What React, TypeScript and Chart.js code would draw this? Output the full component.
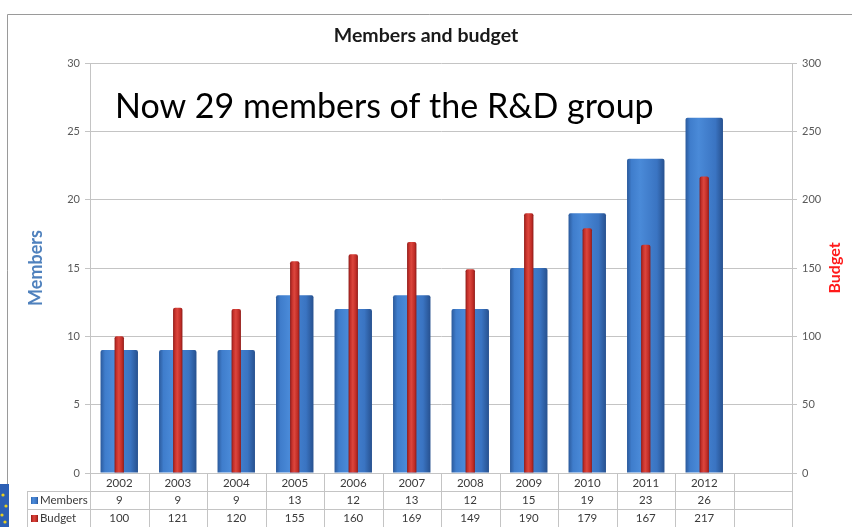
import React, { useEffect, useRef } from "react";
import { Chart, registerables } from "chart.js";

Chart.register(...registerables);

const years = ["2002", "2003", "2004", "2005", "2006", "2007", "2008", "2009", "2010", "2011", "2012", ""];
const members = [9, 9, 9, 13, 12, 13, 12, 15, 19, 23, 26];
const budget = [100, 121, 120, 155, 160, 169, 149, 190, 179, 167, 217];
const chartTitle = "Members and budget";
const note = "Now 29 members of the R&D group";
const membersLabel = "Members";
const budgetLabel = "Budget";

const BLUE_PCT = 0.64;
const RED_PCT = 0.16;

const blueStops: [number, string][] = [
  [0, "#2b5a9c"],
  [0.12, "#3f7dcc"],
  [0.35, "#4a8ad8"],
  [0.8, "#3a74c2"],
  [1, "#27518f"],
];
const redStops: [number, string][] = [
  [0, "#8c1b18"],
  [0.2, "#c4302a"],
  [0.45, "#dc463d"],
  [0.8, "#bf2c26"],
  [1, "#8c1b18"],
];

function barGradient(c: any, pct: number, stops: [number, string][]) {
  const chart = c.chart;
  const xs = chart.scales && chart.scales.x;
  if (!xs || c.type !== "data" || !xs.width) return stops[2][1];
  const n = chart.data.labels.length;
  const cx = xs.getPixelForValue(c.dataIndex);
  const half = ((xs.width / n) * pct) / 2;
  const g = chart.ctx.createLinearGradient(cx - half, 0, cx + half, 0);
  stops.forEach(([o, col]) => g.addColorStop(o, col));
  return g;
}

function keyGradient(ctx: CanvasRenderingContext2D, x: number, w: number, stops: [number, string][]) {
  const g = ctx.createLinearGradient(x, 0, x + w, 0);
  stops.forEach(([o, col]) => g.addColorStop(o, col));
  return g;
}

const decorPlugin = {
  id: "decor",
  beforeDraw(chart: any) {
    const ctx = chart.ctx as CanvasRenderingContext2D;
    ctx.save();
    ctx.fillStyle = "#ffffff";
    ctx.fillRect(0, 0, chart.width, chart.height);
    ctx.strokeStyle = "#9a9a9a";
    ctx.lineWidth = 1;
    ctx.beginPath();
    ctx.moveTo(7.5, chart.height);
    ctx.lineTo(7.5, 14.5);
    ctx.lineTo(chart.width, 14.5);
    ctx.stroke();
    // corner fragment of a flag image
    ctx.fillStyle = "#2c5fb4";
    ctx.fillRect(0, 484, 9, chart.height - 484);
    ctx.fillStyle = "#e8d020";
    [[3, 495], [6, 506], [2, 515], [5, 522]].forEach(([sx, sy]) => {
      ctx.beginPath();
      ctx.arc(sx, sy, 1.6, 0, Math.PI * 2);
      ctx.fill();
    });
    ctx.restore();
  },
  afterDraw(chart: any) {
    const ctx = chart.ctx as CanvasRenderingContext2D;
    const xs = chart.scales.x;
    const n = chart.data.labels.length;
    const cw = xs.width / n;
    const top = chart.chartArea.bottom;
    const rowH = 18;
    const r1 = top + rowH;
    const r2 = top + rowH * 2;
    const r3 = top + rowH * 3;
    const tableLeft = 27;
    ctx.save();
    ctx.strokeStyle = "#c4c4c4";
    ctx.lineWidth = 1;
    ctx.beginPath();
    [r1, r2].forEach((ry) => {
      ctx.moveTo(tableLeft, Math.round(ry) + 0.5);
      ctx.lineTo(xs.right, Math.round(ry) + 0.5);
    });
    for (let k = 0; k <= n; k++) {
      const vx = Math.round(xs.left + k * cw) + 0.5;
      ctx.moveTo(vx, top);
      ctx.lineTo(vx, r3);
    }
    ctx.moveTo(tableLeft + 0.5, r1);
    ctx.lineTo(tableLeft + 0.5, r3);
    ctx.stroke();

    ctx.font = "11.5px Lato";
    ctx.fillStyle = "#3a3a3a";
    ctx.textBaseline = "middle";
    ctx.textAlign = "center";
    members.forEach((v, i) => {
      ctx.fillText(String(v), xs.getPixelForValue(i), r1 + rowH / 2 + 0.5);
    });
    budget.forEach((v, i) => {
      ctx.fillText(String(v), xs.getPixelForValue(i), r2 + rowH / 2 + 0.5);
    });
    ctx.textAlign = "left";
    ctx.fillStyle = keyGradient(ctx, 31, 7, blueStops);
    ctx.fillRect(31, r1 + rowH / 2 - 3, 7, 7);
    ctx.fillStyle = keyGradient(ctx, 31, 7, redStops);
    ctx.fillRect(31, r2 + rowH / 2 - 3, 7, 7);
    ctx.fillStyle = "#3a3a3a";
    ctx.fillText(membersLabel, 40, r1 + rowH / 2 + 0.5);
    ctx.fillText(budgetLabel, 40, r2 + rowH / 2 + 0.5);

    // right axis title
    ctx.save();
    ctx.translate(835, 268);
    ctx.rotate(-Math.PI / 2);
    ctx.font = "bold 16px Lato";
    ctx.fillStyle = "#ff1a1a";
    ctx.textAlign = "center";
    ctx.textBaseline = "middle";
    ctx.fillText(budgetLabel, 0, 0);
    ctx.restore();

    // annotation
    ctx.font = "34px Lato";
    ctx.fillStyle = "#000000";
    ctx.textAlign = "left";
    ctx.textBaseline = "alphabetic";
    ctx.fillText(note, 115, 118);
    ctx.restore();
  },
};

export default function App() {
  const ref = useRef<HTMLCanvasElement | null>(null);
  useEffect(() => {
    document.body.style.margin = "0";
    if (!ref.current) return;
    Chart.defaults.font.family = "Lato";
    const chart = new Chart(ref.current, {
      type: "bar",
      data: {
        labels: years,
        datasets: [
          {
            label: budgetLabel,
            data: budget,
            yAxisID: "y1",
            backgroundColor: (c: any) => barGradient(c, RED_PCT, redStops),
            barPercentage: RED_PCT,
            categoryPercentage: 1,
            borderRadius: { topLeft: 2, topRight: 2, bottomLeft: 0, bottomRight: 0 },
            borderSkipped: "bottom",
            order: 0,
          },
          {
            label: membersLabel,
            data: members,
            yAxisID: "y",
            backgroundColor: (c: any) => barGradient(c, BLUE_PCT, blueStops),
            barPercentage: BLUE_PCT,
            categoryPercentage: 1,
            borderRadius: { topLeft: 2, topRight: 2, bottomLeft: 0, bottomRight: 0 },
            borderSkipped: "bottom",
            order: 1,
          },
        ],
      },
      options: {
        responsive: false,
        animation: false,
        maintainAspectRatio: false,
        layout: { padding: 0 },
        datasets: { bar: { grouped: false } } as any,
        plugins: {
          legend: { display: false },
          tooltip: { enabled: false },
          title: {
            display: true,
            text: chartTitle,
            color: "#1a1a1a",
            font: { family: "Lato", size: 19.5, weight: "bold" },
            padding: { top: 24, bottom: 15.6 },
          },
        },
        scales: {
          x: {
            offset: true,
            grid: { display: false, drawTicks: false },
            border: { display: true, color: "#c4c4c4" },
            ticks: {
              color: "#3a3a3a",
              font: { size: 11.5 },
              padding: 3,
              maxRotation: 0,
              autoSkip: false,
            },
            afterFit: (s: any) => {
              s.height = 54;
            },
          },
          y: {
            position: "left",
            min: 0,
            max: 30,
            ticks: { stepSize: 5, color: "#595959", font: { size: 11 }, padding: 5 },
            grid: { color: "#c4c4c4", tickLength: 5 },
            border: { color: "#c4c4c4" },
            title: {
              display: true,
              text: membersLabel,
              color: "#4f81bd",
              font: { size: 18, weight: "bold" },
              padding: { top: 25, bottom: 0 },
            },
            afterFit: (s: any) => {
              s.width = 90;
            },
          },
          y1: {
            position: "right",
            min: 0,
            max: 300,
            ticks: { stepSize: 50, color: "#595959", font: { size: 11 }, padding: 5 },
            grid: { drawOnChartArea: false, color: "#c4c4c4", tickLength: 5 },
            border: { color: "#c4c4c4" },
            afterFit: (s: any) => {
              s.width = 60;
            },
          },
        },
      },
      plugins: [decorPlugin],
    });
    return () => chart.destroy();
  }, []);
  return (
    <div style={{ width: 852, height: 527 }}>
      <canvas ref={ref} width={852} height={527} style={{ display: "block" }} />
    </div>
  );
}
